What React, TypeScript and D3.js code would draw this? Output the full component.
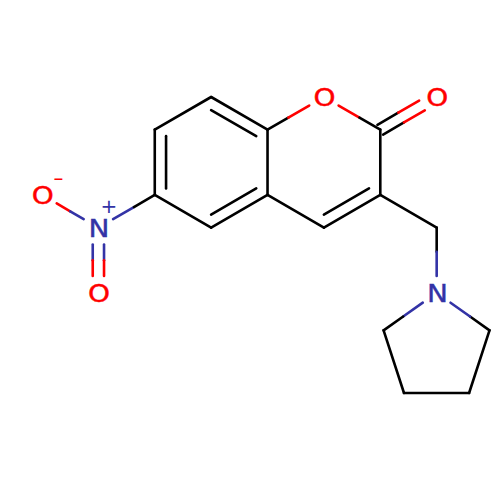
import React, { useEffect, useRef } from 'react';
import * as d3 from 'd3';

// atoms, in molecule units (bond length = 1.5)
const atomLabels = ['O', 'N', 'O', 'C', 'C', 'C', 'C', 'C', 'C', 'O', 'C', 'O', 'C', 'C', 'C', 'N', 'C', 'C', 'C', 'C'];
const atomX = [0, 1.299, 1.299, 2.598, 3.897, 5.196, 5.196, 3.897, 2.598, 6.495, 7.794, 9.093, 7.794, 6.495, 9.093, 9.093, 7.87, 8.34, 9.84, 10.31];
const atomY = [2.25, 3, 4.5, 2.25, 3, 2.25, 0.75, 0, 0.75, 0, 0.75, 0, 2.25, 3, 3, 4.5, 5.36, 6.8, 6.8, 5.36];

// [from, to, order, side]: side 0 = symmetric double, +1/-1 = inner line on that side
const bonds: [number, number, number, number][] = [
    [0, 1, 1, 0],
    [1, 2, 2, 0],
    [1, 3, 1, 0],
    [3, 4, 1, 0],
    [4, 5, 2, -1],
    [5, 6, 1, 0],
    [6, 7, 2, -1],
    [7, 8, 1, 0],
    [8, 3, 2, -1],
    [6, 9, 1, 0],
    [9, 10, 1, 0],
    [10, 11, 2, 0],
    [10, 12, 1, 0],
    [12, 13, 2, 1],
    [13, 5, 1, 0],
    [12, 14, 1, 0],
    [14, 15, 1, 0],
    [15, 16, 1, 0],
    [16, 17, 1, 0],
    [17, 18, 1, 0],
    [18, 19, 1, 0],
    [19, 15, 1, 0]
];

const charges: [number, string][] = [[0, '-'], [1, '+']];

const elementColors: Record<string, string> = {
    C: '#000000',
    N: '#3333A6',
    O: '#FF0000'
};

const LABEL_GAP = 17;
const DOUBLE_GAP = 11.3;
const INNER_TRIM = 6.5;
const LINE_WIDTH = 2.6;

const App: React.FC = () => {
    const svgRef = useRef<SVGSVGElement>(null);

    useEffect(() => {
        if (!svgRef.current) return;

        const svg = d3.select(svgRef.current);
        svg.selectAll('*').remove();

        const x = d3.scaleLinear().domain([0, 10.31]).range([42, 489.5]);
        const y = d3.scaleLinear().domain([0, 6.8]).range([97, 393]);

        const g = svg.append('g').attr('fill', 'none').attr('stroke-width', LINE_WIDTH);

        const drawLine = (x1: number, y1: number, x2: number, y2: number, color: string) => {
            g.append('line')
                .attr('x1', x1)
                .attr('y1', y1)
                .attr('x2', x2)
                .attr('y2', y2)
                .attr('stroke', color)
                .attr('stroke-linecap', 'round');
        };

        const drawBond = (a: number, b: number, order: number, side: number) => {
            const ax = x(atomX[a]);
            const ay = y(atomY[a]);
            const bx = x(atomX[b]);
            const by = y(atomY[b]);
            const len = Math.hypot(bx - ax, by - ay);
            const ux = (bx - ax) / len;
            const uy = (by - ay) / len;
            // trim the ends that carry a label
            const trimA = atomLabels[a] !== 'C' ? LABEL_GAP : 0;
            const trimB = atomLabels[b] !== 'C' ? LABEL_GAP : 0;
            const sx = ax + ux * trimA;
            const sy = ay + uy * trimA;
            const ex = bx - ux * trimB;
            const ey = by - uy * trimB;
            const colorA = elementColors[atomLabels[a]];
            const colorB = elementColors[atomLabels[b]];

            const segment = (off: number, extra: number) => {
                const px = -uy * off;
                const py = ux * off;
                const x1 = sx + ux * extra + px;
                const y1 = sy + uy * extra + py;
                const x2 = ex - ux * extra + px;
                const y2 = ey - uy * extra + py;
                const mx = (x1 + x2) / 2;
                const my = (y1 + y2) / 2;
                if (colorA === colorB) {
                    drawLine(x1, y1, x2, y2, colorA);
                } else {
                    drawLine(x1, y1, mx, my, colorA);
                    drawLine(mx, my, x2, y2, colorB);
                }
            };

            if (order === 1) {
                segment(0, 0);
            } else if (side === 0) {
                segment(DOUBLE_GAP / 2, 0);
                segment(-DOUBLE_GAP / 2, 0);
            } else {
                segment(0, 0);
                segment(DOUBLE_GAP * side, INNER_TRIM);
            }
        };

        bonds.forEach(b => drawBond(b[0], b[1], b[2], b[3]));

        // atom labels, the reference glyphs are a bit wider and heavier than plain DejaVu
        svg.append('g')
            .attr('font-family', '"DejaVu Sans", sans-serif')
            .attr('font-size', 25)
            .attr('text-anchor', 'middle')
            .attr('stroke-width', 0.4)
            .selectAll('text')
            .data(atomLabels.map((label, i) => ({ label, i })).filter(d => d.label !== 'C'))
            .enter()
            .append('text')
            .attr('transform', d => `translate(${x(atomX[d.i]) + 0.7},${y(atomY[d.i]) + 9}) scale(1.12,1)`)
            .attr('fill', d => elementColors[d.label])
            .attr('stroke', d => elementColors[d.label])
            .text(d => d.label);

        // formal charges
        svg.append('g')
            .attr('font-family', '"DejaVu Sans", sans-serif')
            .attr('font-size', 20)
            .attr('text-anchor', 'middle')
            .selectAll('text')
            .data(charges)
            .enter()
            .append('text')
            .attr('transform', d => d[1] === '+'
                ? `translate(${x(atomX[d[0]]) + 10.5},${y(atomY[d[0]]) - 14.5})`
                : `translate(${x(atomX[d[0]]) + 16.5},${y(atomY[d[0]]) - 10}) scale(1.5,1)`)
            .attr('fill', d => elementColors[atomLabels[d[0]]])
            .text(d => d[1]);
    }, []);

    return <svg ref={svgRef} width={500} height={500} style={{ position: 'absolute', left: 0, top: 0, background: '#fff' }} />;
};

export default App;
